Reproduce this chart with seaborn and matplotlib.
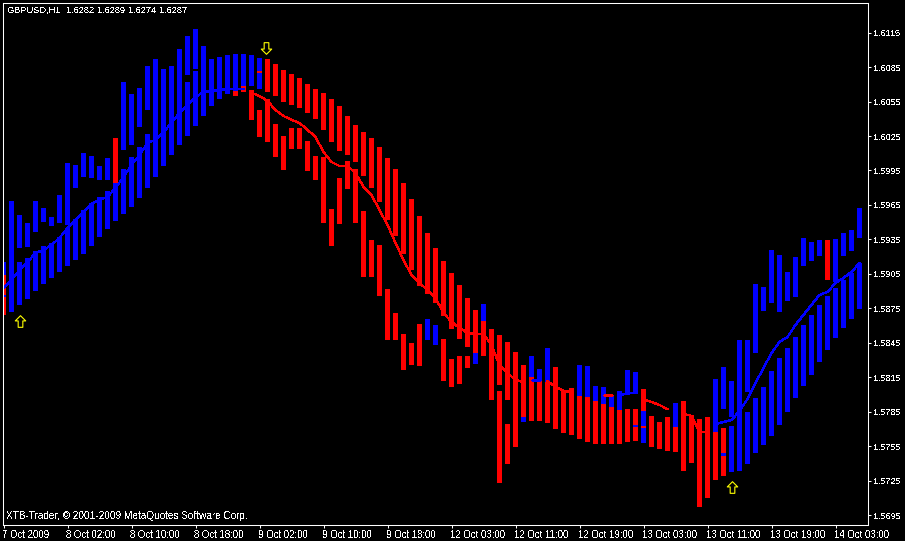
import numpy as np
import pandas as pd
import seaborn as sns
import matplotlib.pyplot as plt
from matplotlib.path import Path
from matplotlib.transforms import ScaledTranslation

# GBPUSD H1
upper_hi = [1.59154, 1.59685, 1.59563, 1.59493, 1.59685, 1.59624, 1.59545, 1.59737, 1.60015, 1.59998,
            1.60102, 1.60076, 1.59989, 1.60059, 1.60233, 1.60720, 1.60616, 1.60668, 1.60860, 1.60921,
            1.60833, 1.60860, 1.61008, 1.61121, 1.61182, 1.61034, 1.60921, 1.60938, 1.60955, 1.60964,
            1.60964, 1.60955, 1.60929, 1.60921, 1.60877, 1.60825, 1.60790, 1.60755, 1.60703, 1.60659,
            1.60625, 1.60572, 1.60511, 1.60424, 1.60346, 1.60285, 1.60233, 1.60155, 1.60059, 1.59963,
            1.59841, 1.59702, 1.59554, 1.59406, 1.59276, 1.59163, 1.59058, 1.58954, 1.58841, 1.58736,
            1.58788, 1.58571, 1.58518, 1.58458, 1.58371, 1.58257, 1.58336, 1.58223, 1.58405, 1.58240,
            1.58040, 1.58057, 1.58257, 1.58249, 1.58075, 1.58066, 1.57988, 1.58031, 1.58214, 1.58197,
            1.58049, 1.57814, 1.57761, 1.57805, 1.57927, 1.57944, 1.57822, 1.57787, 1.57805, 1.58136,
            1.58240, 1.58118, 1.58475, 1.58475, 1.58962, 1.58936, 1.59258, 1.59215, 1.59067, 1.59197,
            1.59363, 1.59328, 1.59345, 1.59345, 1.59354, 1.59406, 1.59432, 1.59624]
upper_lo = [1.58849, 1.58719, 1.59276, 1.59284, 1.59415, 1.59502, 1.59467, 1.59493, 1.59476, 1.59798,
            1.59894, 1.59885, 1.59867, 1.59867, 1.59841, 1.60129, 1.60172, 1.60329, 1.60477, 1.59894,
            1.59989, 1.60085, 1.60172, 1.60781, 1.60833, 1.60424, 1.60511, 1.60572, 1.60616, 1.60642,
            1.60686, 1.60686, 1.60659, 1.60633, 1.60599, 1.60546, 1.60520, 1.60494, 1.60451, 1.60398,
            1.60303, 1.60198, 1.60120, 1.60085, 1.60024, 1.59902, 1.59798, 1.59676, 1.59519, 1.59380,
            1.59223, 1.59084, 1.58945, 1.58875, 1.58797, 1.58684, 1.58571, 1.58484, 1.58414, 1.58362,
            1.58640, 1.57953, 1.58083, 1.57953, 1.57544, 1.57805, 1.58153, 1.58118, 1.58109, 1.57700,
            1.57666, 1.57648, 1.57988, 1.57979, 1.57944, 1.57918, 1.57892, 1.57866, 1.57996, 1.58005,
            1.57857, 1.57544, 1.57526, 1.57509, 1.57718, 1.57335, 1.57404, 1.57022, 1.57100, 1.57674,
            1.57874, 1.57805, 1.57335, 1.58022, 1.58362, 1.58727, 1.58797, 1.58719, 1.58814, 1.58849,
            1.59119, 1.59163, 1.59206, 1.58997, 1.58980, 1.59206, 1.59250, 1.59363]
upper_colour = list(
    "b" * 14 + "r" + "b" * 18 + "r" * 27 + "b" + "r" * 5 + "bbb" + "rrr" + "b" * 8 + "rrrr" + "b" + "rrrr" + "b" * 14 + "r" + "bbbb")

lower_hi = [1.59041, None, 1.59154, 1.59189, 1.59250, 1.59293, 1.59319, 1.59371, 1.59450, 1.59528,
            1.59606, 1.59667, 1.59720, 1.59772, 1.59841, 1.59963, 1.60068, 1.60155, 1.60268, None,
            None, None, None, 1.60720, 1.60816, None, None, None, None, 1.60642,
            1.60686, 1.60651, 1.60477, 1.60572, 1.60355, 1.60250, 1.60320, 1.60320, 1.60207, 1.60076,
            1.60068, 1.59615, 1.59885, 1.60033, 1.59963, 1.59598, 1.59345, 1.59302, 1.58919, 1.58710,
            1.58527, 1.58449, 1.58614, 1.58658, 1.58606, 1.58484, 1.58310, 1.58336, 1.58336, 1.58362,
            1.58640, None, 1.58031, 1.57744, None, 1.57805, 1.58153, 1.58118, 1.58109, None,
            None, None, 1.57988, 1.57979, 1.57944, 1.57918, 1.57892, 1.57866, 1.57874, 1.57874,
            1.57857, None, None, None, 1.57718, None, None, None, None, 1.57674,
            1.57709, 1.57726, None, 1.57848, 1.57970, 1.58066, 1.58205, 1.58318, 1.58405, 1.58501,
            1.58606, 1.58693, 1.58780, 1.58858, 1.58928, 1.58997, 1.59058, 1.59145]
lower_lo = [1.58693, None, 1.58780, 1.58832, 1.58901, 1.58962, 1.59015, 1.59067, 1.59119, 1.59171,
            1.59223, 1.59293, 1.59371, 1.59441, 1.59511, 1.59572, 1.59632, 1.59711, 1.59798, None,
            None, None, None, 1.60250, 1.60337, None, None, None, None, 1.60599,
            1.60633, 1.60390, 1.60242, 1.60198, 1.60068, 1.59954, 1.60137, 1.60137, 1.59946, 1.59867,
            1.59493, 1.59293, 1.59485, 1.59789, 1.59493, 1.59023, 1.59023, 1.58858, 1.58475, 1.58475,
            1.58214, 1.58257, 1.58249, 1.58475, 1.58431, 1.58118, 1.58066, 1.58092, 1.58231, 1.58266,
            1.58336, None, 1.57230, 1.57396, None, 1.57761, 1.57770, 1.57770, 1.57753, None,
            None, None, 1.57613, 1.57587, 1.57570, 1.57570, 1.57570, 1.57570, 1.57587, 1.57596,
            1.57579, None, None, None, 1.57500, None, None, None, None, 1.57257,
            1.57291, 1.57326, None, 1.57396, 1.57492, 1.57561, 1.57639, 1.57735, 1.57848, 1.57970,
            1.58075, 1.58170, 1.58283, 1.58388, 1.58492, 1.58580, 1.58658, 1.58745]
lower_colour = list(
    "r" + "b" * 28 + "r" * 24 + "bb" + "rrrr" + "b" + "r" * 5 + "b" + "r" * 14 + "b" + "r" * 10 + "b" * 17)

# pequenos corpos dentro das barras
doji_index = [0, 32, 79, 80, 90]
doji_hi = [1.58867, 1.60816, 1.57735, 1.57726, 1.57492]
doji_lo = [1.58849, 1.60799, 1.57718, 1.57709, 1.57465]
doji_colour = ["b", "r", "b", "r", "b"]

line_blue = [1.58928, 1.58997, 1.59084, 1.59154, 1.59232, 1.59258, 1.59302, 1.59363, 1.59450, 1.59519,
             1.59589, 1.59659, 1.59693, 1.59720, 1.59798, 1.59894, 1.59998, 1.60085, 1.60189, 1.60216,
             1.60285, 1.60364, 1.60451, 1.60520, 1.60590, 1.60633, 1.60642, 1.60651, 1.60659, 1.60659,
             1.60659] + [None] * 35 + [1.58127, 1.58127] + [None] * 9 + [1.57988, 1.58014, 1.58014] + [None] * 9 + [
             1.57744, 1.57761, 1.57779, 1.57857, 1.57961, 1.58101, 1.58231, 1.58362, 1.58458, 1.58501,
             1.58606, 1.58693, 1.58780, 1.58867, 1.58893, 1.58971, 1.59015, 1.59067, 1.59145]
line_red = [None] * 31 + [
            1.60625, 1.60599, 1.60555, 1.60477, 1.60424, 1.60390, 1.60364, 1.60303, 1.60242, 1.60111,
            1.60024, 1.59989, 1.59989, 1.59928, 1.59807, 1.59737, 1.59606, 1.59476, 1.59319, 1.59171,
            1.59041, 1.58971, 1.58910, 1.58841, 1.58710, 1.58632, 1.58580, 1.58536, 1.58527, 1.58527,
            1.58431, 1.58257, 1.58188, 1.58127, 1.58109] + [None] * 2 + [
            1.58118, 1.58066, 1.58031, 1.58022] + [None] * 3 + [1.57996, 1.57996] + [None] * 3 + [
            1.57961, 1.57935, 1.57909, 1.57874, None, 1.57831, 1.57814, 1.57674, 1.57674] + [None] * 19

arrow_up_index = [2, 91]
arrow_up_price = [1.58640, 1.57196]
arrow_down_index = [32.75]
arrow_down_price = [1.61016]

x_ticks = list(range(0, 105, 8))
x_labels = ["7 Oct 2009", "8 Oct 02:00", "8 Oct 10:00", "8 Oct 18:00", "9 Oct 02:00", "9 Oct 10:00",
            "9 Oct 18:00", "12 Oct 03:00", "12 Oct 11:00", "12 Oct 19:00", "13 Oct 03:00", "13 Oct 11:00",
            "13 Oct 19:00", "14 Oct 03:00"]
y_ticks = [1.6115, 1.6085, 1.6055, 1.6025, 1.5995, 1.5965, 1.5935, 1.5905, 1.5875, 1.5845, 1.5815,
           1.5785, 1.5755, 1.5725, 1.5695]

COLOURS = {"b": "#0000ff", "r": "#ff0000"}
bar_index = np.arange(len(upper_hi))

sns.set_theme(style="dark", rc={"axes.facecolor": "black", "figure.facecolor": "black"})
plt.rcParams["font.family"] = ["Liberation Sans", "DejaVu Sans"]
plt.rcParams["text.antialiased"] = False

fig = plt.figure(figsize=(9.05, 5.41), dpi=100)
ax = fig.add_axes([2.5 / 905, (541 - 524.5) / 541, 865 / 905, 522 / 541])


def draw_bars(hi, lo, colours):
    hi = np.array(hi, dtype=float)
    lo = np.array(lo, dtype=float)
    colours = np.array(colours)
    for key, colour in COLOURS.items():
        mask = (colours == key) & ~np.isnan(hi)
        sns.barplot(x=bar_index, y=np.where(mask, hi - lo, 0), bottom=np.where(mask, lo, 0),
                    native_scale=True, width=5 / 8, color=colour, saturation=1, errorbar=None,
                    linewidth=0, antialiased=False, ax=ax)


draw_bars(upper_hi, upper_lo, upper_colour)
draw_bars(lower_hi, lower_lo, lower_colour)

# corpos: mesma escala, so preenche os indices conhecidos
d_hi = np.full(len(bar_index), np.nan)
d_lo = np.full(len(bar_index), np.nan)
d_col = np.array(["b"] * len(bar_index))
d_hi[doji_index] = doji_hi
d_lo[doji_index] = doji_lo
d_col[doji_index] = doji_colour
draw_bars(d_hi, d_lo, d_col)

# linha com falhas: cada trecho vira uma unidade
for values, colour in [(line_blue, COLOURS["b"]), (line_red, COLOURS["r"])]:
    s = pd.Series(values, dtype=float)
    df = pd.DataFrame({"i": bar_index, "price": s, "seg": s.isna().cumsum()}).dropna()
    sns.lineplot(data=df, x="i", y="price", units="seg", estimator=None, color=colour,
                 linewidth=0.95, antialiased=False, ax=ax)

arrow_up = Path([(-0.4, -1), (0.4, -1), (0.4, 0.1), (0.9, 0.1), (0, 1), (-0.9, 0.1), (-0.4, 0.1), (-0.4, -1)], closed=True)
arrow_down = Path([(-0.4, 1), (0.4, 1), (0.4, -0.1), (0.9, -0.1), (0, -1), (-0.9, -0.1), (-0.4, -0.1), (-0.4, 1)], closed=True)
sns.scatterplot(x=arrow_up_index, y=arrow_up_price, marker=arrow_up, s=70, color="black",
                edgecolor="yellow", linewidth=0.8, ax=ax)
sns.scatterplot(x=arrow_down_index, y=arrow_down_price, marker=arrow_down, s=70, color="black",
                edgecolor="yellow", linewidth=0.8, ax=ax)

ax.set_xlim(-0.125, 108)
ax.set_ylim(1.56869, 1.61412)
ax.set_xlabel("")
ax.set_ylabel("")
ax.grid(False)

ax.set_xticks(x_ticks)
ax.set_xticklabels(x_labels, ha="left")
ax.yaxis.tick_right()
ax.set_yticks(y_ticks)
ax.set_yticklabels([f"{v:.4f}" for v in y_ticks])
ax.tick_params(axis="both", colors="white", labelcolor="white", length=2.5, width=0.75, pad=2,
               bottom=True, right=True, left=False, top=False)
ax.tick_params(axis="x", labelsize=6.9, pad=1.5)
ax.tick_params(axis="y", labelsize=6.5)
# rotulos do eixo x comecam um pouco antes do traco
shift = ScaledTranslation(-1.5 / 100, 0, fig.dpi_scale_trans)
for label in ax.get_xticklabels():
    label.set_transform(label.get_transform() + shift)
for side in ax.spines:
    ax.spines[side].set_visible(True)
    ax.spines[side].set_color("white")
    ax.spines[side].set_linewidth(0.75)

fig.text(7 / 905, 1 - 10 / 541, "GBPUSD,H1  1.6282 1.6289 1.6274 1.6287", color="white", fontsize=6.65, va="center")
fig.text(6 / 905, 1 - 516 / 541, "XTB-Trader, © 2001-2009 MetaQuotes Software Corp.", color="white", fontsize=7.2, va="center")

fig.savefig("out.png", dpi=100, facecolor="black")
